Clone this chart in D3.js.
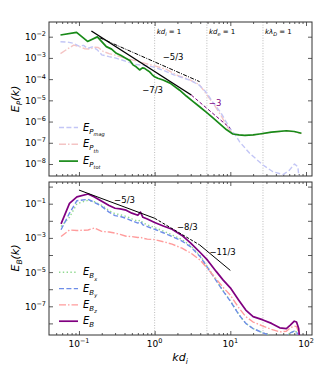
<!DOCTYPE html>
<html>
<head>
<meta charset="utf-8" />
<title>Spectra</title>
<script src="https://d3js.org/d3.v7.min.js"></script>
<style>
  body { margin: 0; background: #fff; }
  text { font-family: "DejaVu Sans", sans-serif; }
</style>
</head>
<body>
<svg id="viz"></svg>
<script>
// ---- data ----
// top panel: pressure spectra
var kPtot = [0.057,0.093,0.13,0.175,0.23,0.27,0.312,0.36,0.42,0.47,0.517,0.57,0.633,0.69,0.738,0.8,0.859,0.93,1.0,1.1,1.29,1.6,2.14,2.62,3.2,3.93,4.8,5.9,7.2,8.85,10.8,13,15.5,20,24.4,35,55,70,87];
var ePtot = [1.2e-2,1.6e-2,6.0e-3,9.8e-3,3.4e-3,2.6e-3,1.65e-3,1.3e-3,9.5e-4,7.5e-4,4.7e-4,3.8e-4,2.7e-4,3.4e-4,3.2e-4,2.6e-4,2.2e-4,1.6e-4,1.3e-4,1.1e-4,9.1e-5,6.5e-5,3.0e-5,1.6e-5,9.0e-6,5.0e-6,2.8e-6,1.5e-6,8.0e-7,4.2e-7,2.6e-7,2.35e-7,2.25e-7,2.35e-7,2.6e-7,3.2e-7,3.7e-7,3.4e-7,2.8e-7];

var kPmag = [0.057,0.07,0.085,0.1,0.115,0.13,0.15,0.175,0.2,0.25,0.3,0.37,0.45,0.55,0.7,0.95,1.3,1.8,2.9,3.9,4.8,5.9,7.5,9,10,11.5,13.3,18,27,36.6,49.7,60,70.5,78,82];
var ePmag = [5.8e-3,5.6e-3,4.9e-3,3.6e-3,3.9e-3,2.8e-3,3.3e-3,2.4e-3,1.4e-3,1.15e-3,1.0e-3,8.0e-4,6.3e-4,5.0e-4,4.5e-4,3.8e-4,2.6e-4,1.6e-4,9.0e-5,5.2e-5,2.4e-5,8.0e-6,2.6e-6,8.5e-7,4.5e-7,2.5e-7,1.1e-7,3.2e-8,9e-9,4.3e-9,3.2e-9,5e-9,1e-8,7.4e-9,1.5e-9];

var kPth = [0.057,0.07,0.085,0.1,0.12,0.14,0.16,0.18,0.21,0.25,0.3,0.4,0.55,0.75,1.0,1.4,2.0,2.8,3.9,4.8,5.9,7.5,9,10.8,13,15.5,20,24.4,35,55,70,87];
var ePth = [1.6e-3,2.6e-3,4.0e-3,3.5e-3,2.7e-3,2.6e-3,3.2e-3,3.1e-3,2.0e-3,1.6e-3,1.35e-3,1.0e-3,7.5e-4,5.5e-4,4.2e-4,3.0e-4,1.5e-4,1.0e-4,5.5e-5,2.0e-5,7.5e-6,2.0e-6,6.0e-7,2.7e-7,2.3e-7,2.2e-7,2.3e-7,2.55e-7,3.15e-7,3.6e-7,3.3e-7,2.7e-7];

// bottom panel: magnetic spectra
var kB = [0.058,0.075,0.094,0.132,0.16,0.2,0.25,0.3,0.35,0.42,0.5,0.6,0.65,0.7,0.8,1.0,1.3,1.7,2.3,3.0,4.0,5.0,6.5,8.0,10,13,16,20,27,35,45,55,62,70,75,80,85];
var eB  = [6.6e-3,1.05e-1,2.5e-1,3.7e-1,2.5e-1,1.4e-1,7.9e-2,5.4e-2,5.0e-2,4.2e-2,2.8e-2,2.1e-2,3.2e-2,1.6e-2,1.26e-2,7.9e-3,5.0e-3,3.2e-3,1.4e-3,5.0e-4,1.4e-4,5.0e-5,1.1e-5,3.5e-6,1.2e-6,2.2e-7,6.0e-8,2.5e-8,1.6e-8,1.0e-8,5.5e-9,5.0e-9,8.0e-9,1.35e-8,1.2e-8,5e-9,3e-10];
var eBy = [3.0e-3,2.8e-2,1.5e-1,1.8e-1,1.2e-1,7.0e-2,3.2e-2,2.0e-2,1.8e-2,1.4e-2,1.0e-2,7.4e-3,9.0e-3,5.8e-3,4.6e-3,3.2e-3,2.0e-3,1.2e-3,6.5e-4,3.0e-4,8.0e-5,1.8e-5,3.2e-6,8.0e-7,2.0e-7,3.2e-8,1.0e-8,5.0e-9,2.8e-9,1.8e-9,1.4e-9,1.8e-9,2.8e-9,3.5e-9,3.2e-9,1.6e-9,1e-10];
var eBx = [4.6e-3,1.6e-2,1.0e-1,1.6e-1,1.3e-1,8.0e-2,4.0e-2,2.6e-2,2.3e-2,1.8e-2,1.3e-2,9.5e-3,1.1e-2,7.5e-3,5.8e-3,4.0e-3,2.5e-3,1.5e-3,8.0e-4,3.4e-4,9.0e-5,2.0e-5,3.4e-6,8.5e-7,2.1e-7,3.3e-8,1.0e-8,5.0e-9,2.8e-9,1.8e-9,1.4e-9,1.8e-9,2.8e-9,3.5e-9,3.2e-9,1.6e-9,1e-10];
var eBz = [1.2e-3,2.9e-3,2.7e-3,2.9e-3,3.8e-3,2.4e-3,2.2e-3,1.9e-3,1.6e-3,1.25e-3,1.2e-3,1.05e-3,1.1e-3,9.5e-4,8.5e-4,7.9e-4,6.0e-4,4.3e-4,2.5e-4,1.3e-4,5.0e-5,1.6e-5,4.0e-6,1.3e-6,4.5e-7,8.0e-8,2.5e-8,1.2e-8,7.0e-9,4.5e-9,3.2e-9,3.5e-9,5.5e-9,7.0e-9,6.5e-9,3e-9,1e-10];

// reference power laws: [k0, k1], [E0, E1], label position [k, E]
var fitsTop = [
  {k: [0.188, 3.93], e: [8.9e-3, 7.6e-5], lab: "\u22125/3", style: "dashdot", color: "#000", at: [1.75, 8e-4]},
  {k: [0.146, 3.05], e: [1.86e-2, 1.78e-5], lab: "\u22127/3", style: "solid", color: "#000", at: [0.94, 2.2e-5]},
  {k: [3.05, 10], e: [1.78e-5, 4.8e-7], lab: "\u22123", style: "dashed", color: "#800080", at: [6.3, 5.4e-6]}
];
var fitsBot = [
  {k: [0.1, 1], e: [0.63, 1.41e-2], lab: "\u22125/3", style: "solid", at: [0.4, 1.1e-1]},
  {k: [1, 3.93], e: [1.41e-2, 3.9e-4], lab: "\u22128/3", style: "dashed", at: [2.7, 2.9e-3]},
  {k: [3.93, 10], e: [3.9e-4, 1.26e-5], lab: "\u221211/3", style: "solid", at: [7.9, 1.0e-4]}
];
var vLines = [1, 4.9, 27];
var vLabels = [["k", "d", "i", " = 1"], ["k", "d", "e", " = 1"], ["k", "\u03bb", "D", " = 1"]];
var xTicks = [0.1, 1, 10, 100];

var W = 333, H = 373;
var svg = d3.select("#viz").attr("width", W).attr("height", H);

var x = d3.scaleLog().domain([0.0402, 120]).range([49, 312]);
var yTop = d3.scaleLog().domain([Math.pow(10, -8.566), Math.pow(10, -1.307)]).range([176, 22]);
var yBot = d3.scaleLog().domain([Math.pow(10, -8.678), Math.pow(10, 0.269)]).range([335, 182]);

var dashes = {solid: null, dashed: "5,2.4", dashdot: "7,2,1.5,2", dotted: "1.4,2.4"};

function decades(y) {
  var d = y.domain(), out = [];
  for (var p = Math.ceil(Math.log10(d[0])); p <= Math.floor(Math.log10(d[1])); p++) out.push(Math.pow(10, p));
  return out;
}
function minors() {
  var out = [];
  for (var p = -2; p <= 2; p++) for (var m = 2; m <= 9; m++) {
    var v = m * Math.pow(10, p);
    if (v > x.domain()[0] && v < x.domain()[1]) out.push(v);
  }
  return out;
}
function pow10Label(g, v, xx, yy, anchor) {
  var p = Math.round(Math.log10(v));
  var t = g.append("text").attr("x", xx).attr("y", yy).attr("text-anchor", anchor)
    .attr("font-size", 9).attr("fill", "#000");
  t.append("tspan").text("10");
  t.append("tspan").attr("dy", -4).attr("font-size", 6.5).text(p < 0 ? "\u2212" + (-p) : p);
}

function panel(y, top, bottom, clipId, labelTest) {
  var g = svg.append("g");
  svg.append("clipPath").attr("id", clipId).append("rect")
    .attr("x", 49).attr("y", top).attr("width", 263).attr("height", bottom - top);

  // vertical markers
  g.selectAll(".vl").data(vLines).enter().append("line")
    .attr("x1", d => x(d)).attr("x2", d => x(d)).attr("y1", top).attr("y2", bottom)
    .attr("stroke", "#aaa").attr("stroke-width", 0.8).attr("stroke-dasharray", "1,1.6");

  // ticks
  var maj = decades(y);
  var axes = [
    [d3.axisBottom(x).tickValues(xTicks).tickSize(-4), "translate(0," + bottom + ")"],
    [d3.axisBottom(x).tickValues(minors()).tickSize(-2), "translate(0," + bottom + ")"],
    [d3.axisTop(x).tickValues(xTicks).tickSize(-4), "translate(0," + top + ")"],
    [d3.axisTop(x).tickValues(minors()).tickSize(-2), "translate(0," + top + ")"],
    [d3.axisLeft(y).tickValues(maj).tickSize(-4), "translate(49,0)"],
    [d3.axisRight(y).tickValues(maj).tickSize(-4), "translate(312,0)"]
  ];
  axes.forEach(function (a) {
    var ax = g.append("g").attr("transform", a[1]).call(a[0].tickFormat(""));
    ax.select(".domain").remove();
    ax.selectAll("line").attr("stroke", "#333").attr("stroke-width", 0.8);
  });
  maj.forEach(function (v) {
    var p = Math.round(Math.log10(v));
    if (labelTest(p)) pow10Label(g, v, 46, y(v) + 3.5, "end");
  });
  g.append("rect").attr("x", 49).attr("y", top).attr("width", 263).attr("height", bottom - top)
    .attr("fill", "none").attr("stroke", "#333").attr("stroke-width", 1);
  return g;
}

function series(g, y, ks, es, color, style, width, clipId) {
  var pts = ks.map((k, i) => [k, es[i]]);
  var line = d3.line().x(d => x(d[0])).y(d => y(d[1]));
  g.append("path").datum(pts).attr("d", line).attr("fill", "none")
    .attr("stroke", color).attr("stroke-width", width).attr("stroke-dasharray", dashes[style])
    .attr("stroke-linejoin", "round")
    .attr("clip-path", "url(#" + clipId + ")");
}

function mathLabel(g, xx, yy, parts, size) {
  // parts: main, sub, subsub
  var t = g.append("text").attr("x", xx).attr("y", yy).attr("font-size", size).attr("font-style", "italic");
  t.append("tspan").text(parts[0]);
  if (parts[1]) t.append("tspan").attr("dy", size * 0.3).attr("font-size", size * 0.7).text(parts[1]);
  if (parts[2]) t.append("tspan").attr("dy", size * 0.22).attr("font-size", size * 0.5).text(parts[2]);
  return t;
}

// ---------- top panel ----------
var gt = panel(yTop, 22, 176, "clipTop", p => true);
series(gt, yTop, kPth, ePth, "#f4c4c4", "dashdot", 1.4, "clipTop");
series(gt, yTop, kPmag, ePmag, "#c3c6f6", "dashed", 1.4, "clipTop");
series(gt, yTop, kPtot, ePtot, "#188a18", "solid", 1.7, "clipTop");
fitsTop.forEach(function (f) {
  gt.append("path").datum([[f.k[0], f.e[0]], [f.k[1], f.e[1]]])
    .attr("d", d3.line().x(d => x(d[0])).y(d => yTop(d[1])))
    .attr("stroke", f.color).attr("stroke-width", f.style === "solid" ? 1.4 : 1)
    .attr("stroke-dasharray", f.style === "dashdot" ? "4,1.3,1,1.3" : (f.style === "dashed" ? "3.5,2" : null));
  gt.append("text").attr("x", x(f.at[0])).attr("y", yTop(f.at[1])).attr("text-anchor", "middle")
    .attr("font-size", 8.5).attr("fill", f.color).text(f.lab);
});
vLabels.forEach(function (l, i) {
  var t = gt.append("text").attr("x", x(vLines[i]) + 2).attr("y", 34).attr("font-size", 7);
  t.append("tspan").attr("font-style", "italic").text(l[0] + l[1]);
  t.append("tspan").attr("font-style", "italic").attr("dy", 1.8).attr("font-size", 5).text(l[2]);
  t.append("tspan").attr("dy", -1.8).text(l[3]);
});
var legTop = [
  {c: "#c3c6f6", s: "dashed", w: 1.4, lab: ["E", "P", "mag"]},
  {c: "#f4c4c4", s: "dashdot", w: 1.4, lab: ["E", "P", "th"]},
  {c: "#188a18", s: "solid", w: 1.7, lab: ["E", "P", "tot"]}
];
legTop.forEach(function (d, i) {
  var yy = 127.5 + i * 16.8;
  gt.append("line").attr("x1", 59).attr("x2", 78).attr("y1", yy).attr("y2", yy)
    .attr("stroke", d.c).attr("stroke-width", d.w).attr("stroke-dasharray", dashes[d.s]);
  mathLabel(gt, 83, yy + 3, d.lab, 10);
});
svg.append("text").attr("transform", "translate(19,99) rotate(-90)").attr("text-anchor", "middle")
  .attr("font-size", 11).attr("font-style", "italic")
  .call(function (t) {
    t.append("tspan").text("E");
    t.append("tspan").attr("dy", 3).attr("font-size", 7.5).text("P");
    t.append("tspan").attr("dy", -3).text("(k)");
  });

// ---------- bottom panel ----------
var gb = panel(yBot, 182, 335, "clipBot", p => Math.abs(p % 2) === 1);
series(gb, yBot, kB, eBx, "#8fd98f", "dotted", 1.4, "clipBot");
series(gb, yBot, kB, eBy, "#6d8de8", "dashed", 1.4, "clipBot");
series(gb, yBot, kB, eBz, "#ff9c9c", "dashdot", 1.4, "clipBot");
series(gb, yBot, kB, eB, "#800080", "solid", 1.7, "clipBot");
fitsBot.forEach(function (f) {
  gb.append("path").datum([[f.k[0], f.e[0]], [f.k[1], f.e[1]]])
    .attr("d", d3.line().x(d => x(d[0])).y(d => yBot(d[1])))
    .attr("stroke", "#000").attr("stroke-width", 1)
    .attr("stroke-dasharray", f.style === "dashed" ? "3,1.6" : null);
  gb.append("text").attr("x", x(f.at[0])).attr("y", yBot(f.at[1])).attr("text-anchor", "middle")
    .attr("font-size", 8.5).text(f.lab);
});
var legBot = [
  {c: "#8fd98f", s: "dotted", w: 1.4, lab: ["E", "B", "x"]},
  {c: "#6d8de8", s: "dashed", w: 1.4, lab: ["E", "B", "y"]},
  {c: "#ff9c9c", s: "dashdot", w: 1.4, lab: ["E", "B", "z"]},
  {c: "#800080", s: "solid", w: 1.7, lab: ["E", "B"]}
];
legBot.forEach(function (d, i) {
  var yy = 272.3 + i * 16.3;
  gb.append("line").attr("x1", 59).attr("x2", 78).attr("y1", yy).attr("y2", yy)
    .attr("stroke", d.c).attr("stroke-width", d.w).attr("stroke-dasharray", dashes[d.s]);
  mathLabel(gb, 83, yy + 3, d.lab, 10);
});
xTicks.forEach(function (v) { pow10Label(gb, v, x(v), 347, "middle"); });
svg.append("text").attr("transform", "translate(19,258) rotate(-90)").attr("text-anchor", "middle")
  .attr("font-size", 11).attr("font-style", "italic")
  .call(function (t) {
    t.append("tspan").text("E");
    t.append("tspan").attr("dy", 3).attr("font-size", 7.5).text("B");
    t.append("tspan").attr("dy", -3).text("(k)");
  });
var xl = svg.append("text").attr("x", 180).attr("y", 361).attr("text-anchor", "middle")
  .attr("font-size", 11).attr("font-style", "italic");
xl.append("tspan").text("kd");
xl.append("tspan").attr("dy", 3).attr("font-size", 7.5).text("i");
</script>
</body>
</html>
